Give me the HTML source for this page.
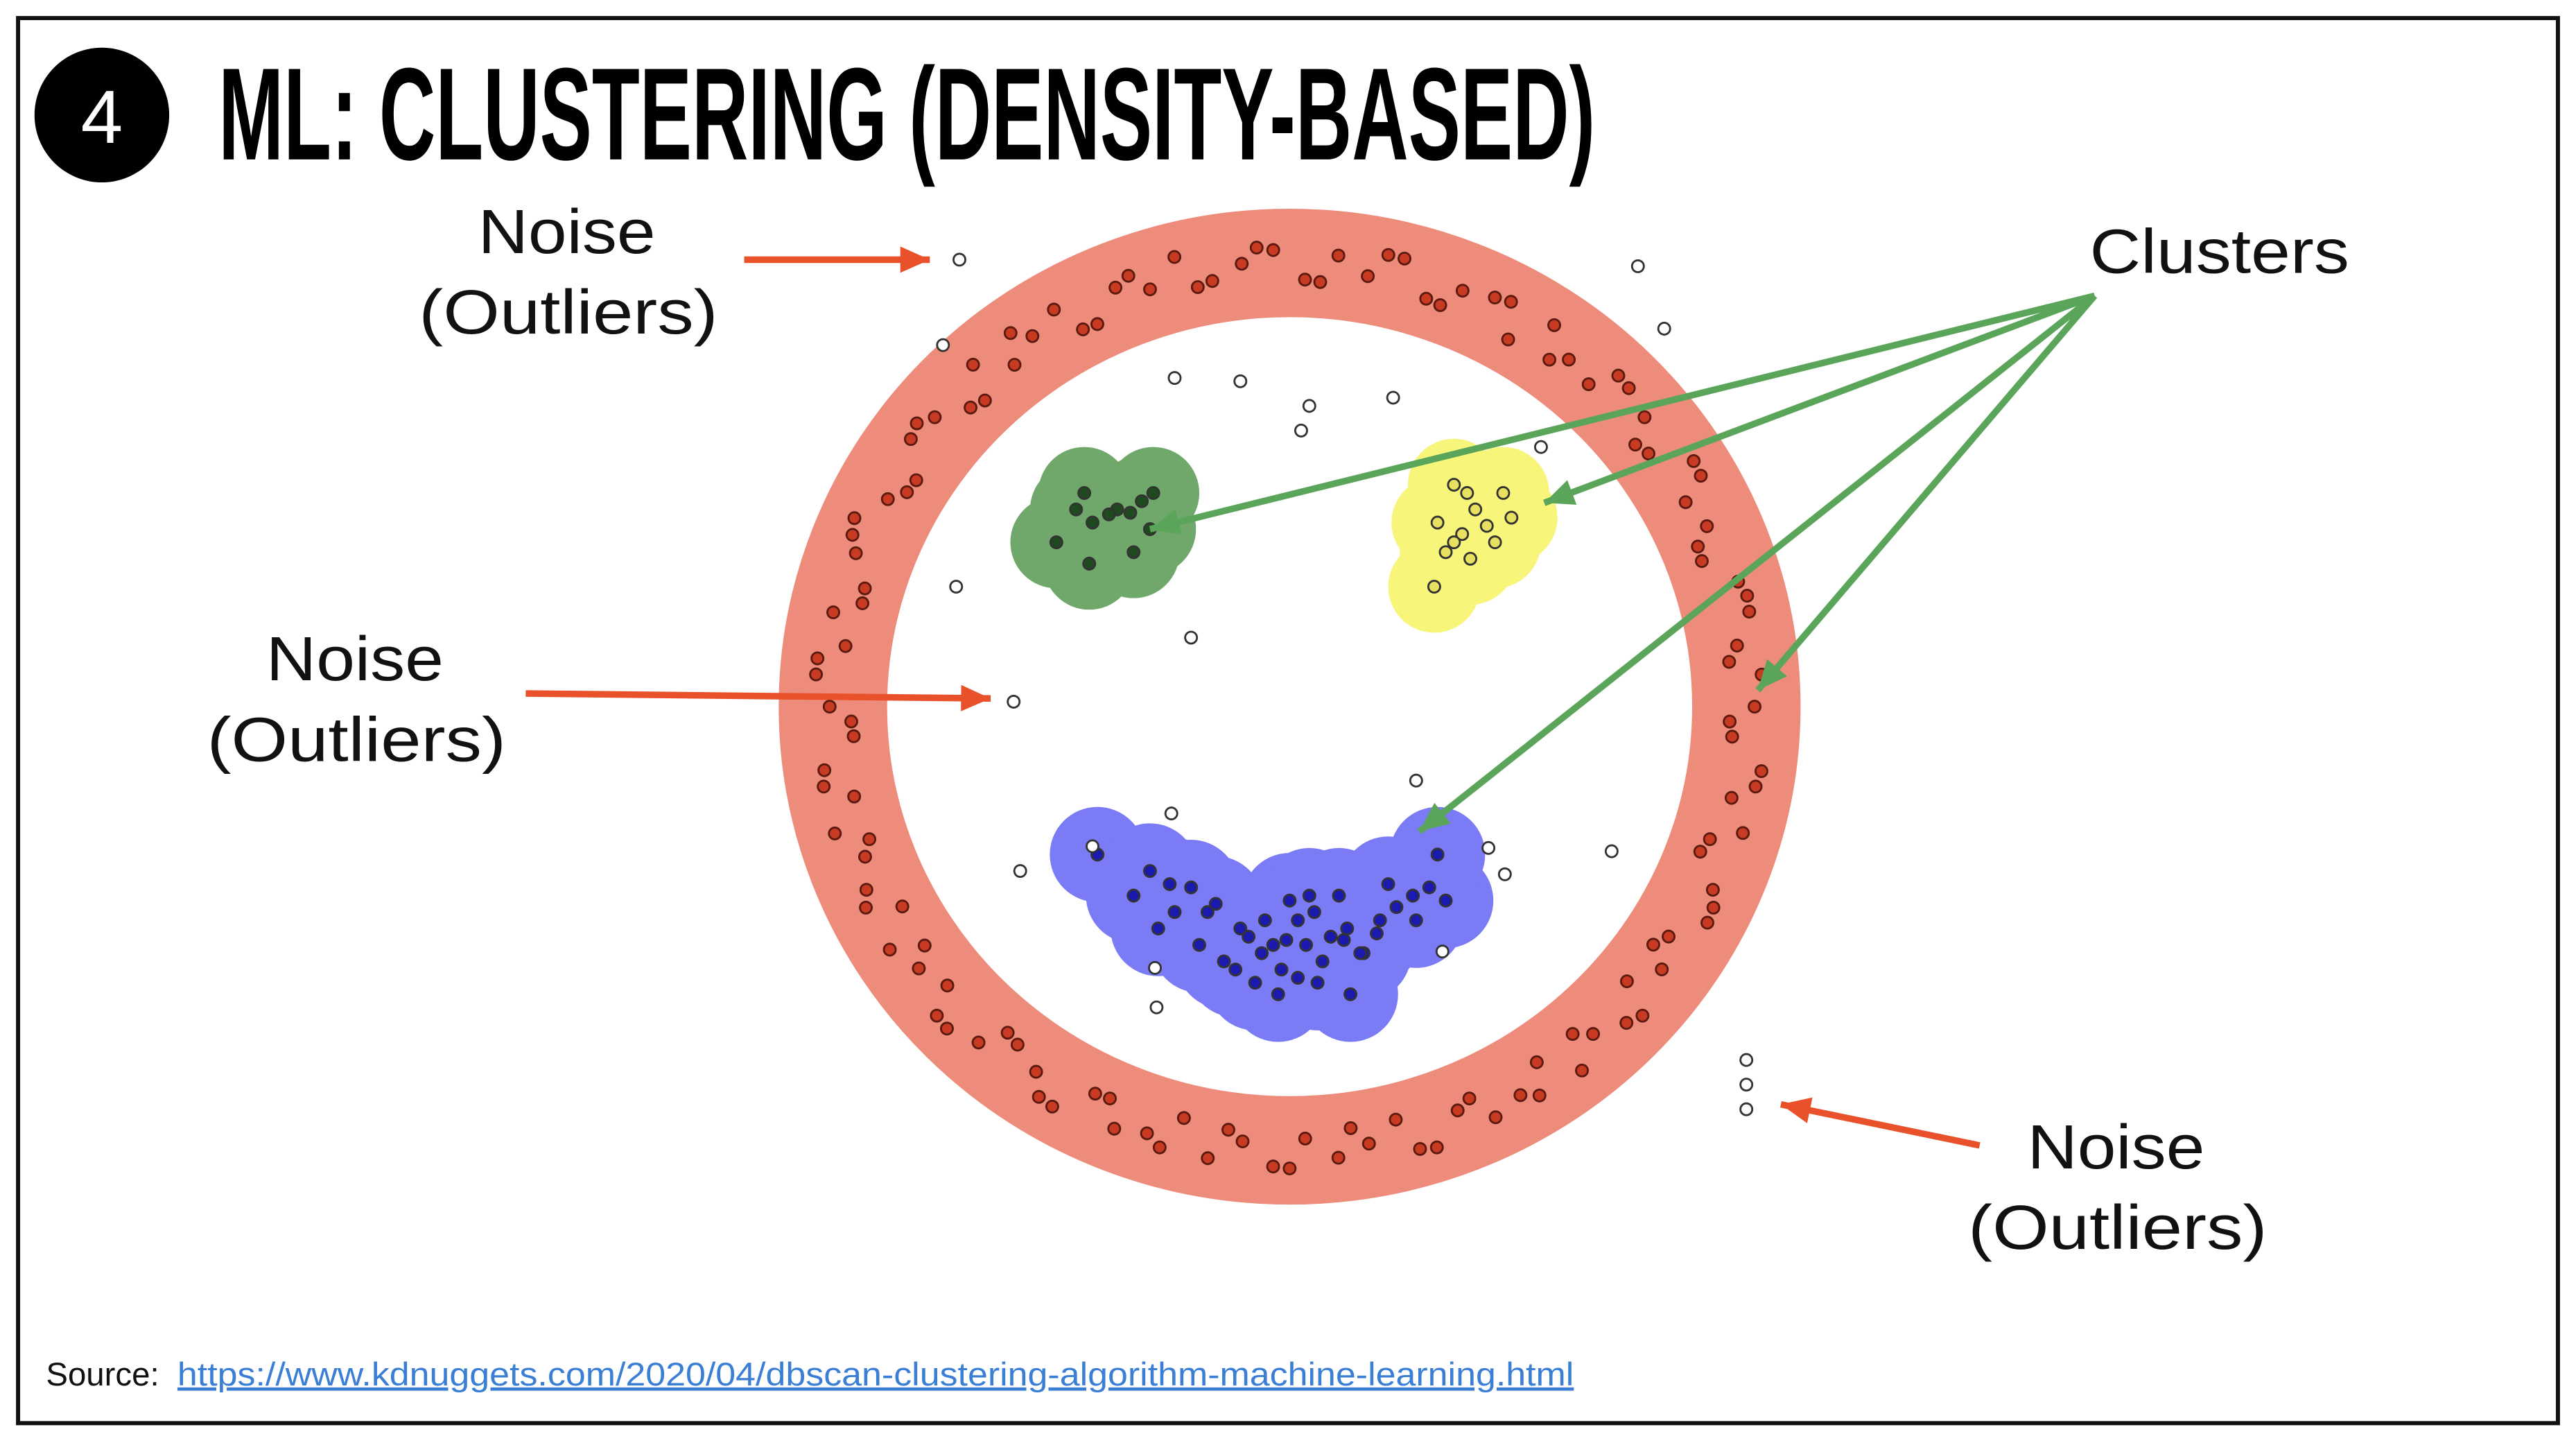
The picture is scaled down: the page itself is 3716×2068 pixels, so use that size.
<!DOCTYPE html>
<html><head><meta charset="utf-8">
<style>
html,body{margin:0;padding:0;background:#fff;}
svg{display:block;}
text{font-family:"Liberation Sans",sans-serif;}
</style></head>
<body>
<svg id="chart" width="3716" height="2068" viewBox="0 0 1568 872.6" preserveAspectRatio="none">
<rect x="11" y="11" width="1546" height="855" fill="#fff" stroke="#111" stroke-width="2.5"/>
<circle cx="62" cy="70" r="41" fill="#000"/>
<text x="62" y="87" font-size="46" fill="#fff" text-anchor="middle">4</text>
<text x="133" y="97" font-size="80" font-weight="bold" textLength="838" lengthAdjust="spacingAndGlyphs">ML: CLUSTERING (DENSITY-BASED)</text>

<g id="plot"></g>

<g font-size="38" fill="#111">
<text x="291" y="154" textLength="108" lengthAdjust="spacingAndGlyphs">Noise</text>
<text x="255" y="203" textLength="182" lengthAdjust="spacingAndGlyphs">(Outliers)</text>
<text x="162" y="414" textLength="108" lengthAdjust="spacingAndGlyphs">Noise</text>
<text x="126" y="463" textLength="182" lengthAdjust="spacingAndGlyphs">(Outliers)</text>
<text x="1234" y="711" textLength="108" lengthAdjust="spacingAndGlyphs">Noise</text>
<text x="1198" y="760" textLength="182" lengthAdjust="spacingAndGlyphs">(Outliers)</text>
<text x="1272" y="166" textLength="158" lengthAdjust="spacingAndGlyphs">Clusters</text>
</g>
<text x="28" y="843" font-size="20" fill="#111">Source: </text>
<text x="108" y="843" font-size="20" fill="#3a7fd5" text-decoration="underline" textLength="850" lengthAdjust="spacingAndGlyphs">https://www.kdnuggets.com/2020/04/dbscan-clustering-algorithm-machine-learning.html</text>
</svg>
<script>
const ringAngles=[0,4,8,12,16,20,24,28,32,36,40,44,48,52,56,60,64,68,72,76,80,84,88,92,96,100,104,108,112,116,120,124,128,132,136,140,144,148,152,156,160,164,168,172,176,180,184,188,192,196,200,204,208,212,216,220,224,228,232,236,240,244,248,252,256,260,264,268,272,276,280,284,288,292,296,300,304,308,312,316,320,324,328,332,336,340,344,348,352,356,2,10,18,26,34,42,50,58,66,74,82,90,98,106,114,122,130,138,146,154,162,170,178,186,194,202,210,218,226,234,242,250,258,266,274,282,290,298,306,314,322,330,338,346,354];
const ringOffsets=[5,-8,12,-3,9,-12,4,10,-6,2,-10,7,-2,11,-9,3,8,-5,12,-11,0,6,-7,10,-4,9,-12,3,7,-8,11,-2,-9,5,12,-6,1,9,-11,4,-3,10,-7,8,-12,2,11,-5,6,-9,3,12,-1,-10,7,4,-8,10,-6,2,9,-11,5,-3,12,-7,1,8,-10,6,-4,11,-9,3,7,-12,10,-2,-6,9,4,-8,12,-5,0,-11,6,8,-3,10,-10,10,-9,9,-11,11,-10,9,-9,10,-11,11,-10,9,-9,10,-11,11,-10,9,-9,10,-11,11,-10,9,-9,10,-11,11,-10,9,-9,10,-11,11,-10,9,-9,10,-11,11,-10,9,-9];
const greenX=[660,665,680,695,700,690,643,663,702,675,688,655];
const greenY=[300,318,310,305,322,336,330,343,300,313,312,310];
const yellowX=[885,893,915,875,890,905,920,880,895,873,910,898,885];
const yellowY=[295,300,300,318,325,320,315,336,340,357,330,310,330];
const blueX=[668,690,700,715,725,740,755,770,775,785,790,800,810,815,820,830,840,850,860,870,880,875,705,730,745,760,768,780,795,805,818,828,838,752,764,778,790,802,822,735,712,845,862,797,783];
const blueY=[520,545,530,555,540,550,565,560,575,548,560,555,570,545,565,580,560,552,545,540,548,520,565,575,585,570,580,590,575,585,572,580,568,590,598,605,595,598,605,555,538,538,560,545,572];
const noiseX=[584,574,715,755,797,792,848,997,1013,938,582,725,617,862,713,621,665,906,916,981,878,703,704,1063,1063,1063];
const noiseY=[158,210,230,232,247,262,242,162,200,272,357,388,427,475,495,530,515,516,532,518,579,589,613,645,660,675];

const ringCx=785, ringCy=430, ringRx=278, ringRy=270;
const NS="http://www.w3.org/2000/svg";
const plot=document.getElementById('plot');
function mk(t,a){const e=document.createElementNS(NS,t);for(const k in a)e.setAttribute(k,a[k]);plot.appendChild(e);return e;}
function ringPt(a,o){const r=a*Math.PI/180;return [ringCx+(ringRx+o)*Math.cos(r),ringCy+(ringRy+o)*Math.sin(r)];}

let band=mk('ellipse',{cx:ringCx,cy:ringCy,rx:ringRx,ry:ringRy,fill:'none',stroke:'#ee8c7c','stroke-width':66});


for(let i=0;i<ringAngles.length;i++){const p=ringPt(ringAngles[i],ringOffsets[i]);
 const c=mk('circle',{cx:p[0],cy:p[1],r:20,fill:'#ee8c7c'});
 
 }
function region(xs,ys,col,r,name){for(let i=0;i<xs.length;i++){const c=mk('circle',{cx:xs[i],cy:ys[i],r:r,fill:col});
 
 }}
region(greenX,greenY,'#6fa86a',28,'green-cluster-region');
region(yellowX,yellowY,'#f7f57a',28,'yellow-cluster-region');
region(blueX,blueY,'#7b7cf5',29,'blue-cluster-region');
function pts(xs,ys,fill,name){for(let i=0;i<xs.length;i++){const c=mk('circle',{cx:xs[i],cy:ys[i],r:3.6,fill:fill,stroke:'#333','stroke-width':1.2});
 
 }}
for(let i=0;i<ringAngles.length;i++){const p=ringPt(ringAngles[i],ringOffsets[i]);
 const c=mk('circle',{cx:p[0],cy:p[1],r:3.6,fill:'#c83a22',stroke:'#5a1a10','stroke-width':1.2});
 
 }
pts(greenX,greenY,'#1f4a1f','green-point');
pts(yellowX,yellowY,'#e8e060','yellow-point');
pts(blueX,blueY,'#1a1ab0','blue-point');
pts(noiseX,noiseY,'#fff','noise-point');
function arrow(x1,y1,x2,y2,col,name){const l=mk('line',{x1:x1,y1:y1,x2:x2,y2:y2,stroke:col,'stroke-width':4});
 
 
 const a=Math.atan2(y2-y1,x2-x1),s=18,w=8;
 const p=[[x2,y2],[x2-s*Math.cos(a)+w*Math.sin(a),y2-s*Math.sin(a)-w*Math.cos(a)],[x2-s*Math.cos(a)-w*Math.sin(a),y2-s*Math.sin(a)+w*Math.cos(a)]];
 const h=mk('polygon',{points:p.map(q=>q.join(',')).join(' '),fill:col});
 
 }
arrow(453,158,566,158,'#e8512a','noise-arrow-top');
arrow(320,422,603,425,'#e8512a','noise-arrow-left');
arrow(1205,697,1084,672,'#e8512a','noise-arrow-bottom');
arrow(1275,180,700,322,'#5aa55a','cluster-arrow-green');
arrow(1275,180,940,306,'#5aa55a','cluster-arrow-yellow');
arrow(1275,180,1070,420,'#5aa55a','cluster-arrow-ring');
arrow(1275,180,864,506,'#5aa55a','cluster-arrow-blue');
</script>
</body></html>
